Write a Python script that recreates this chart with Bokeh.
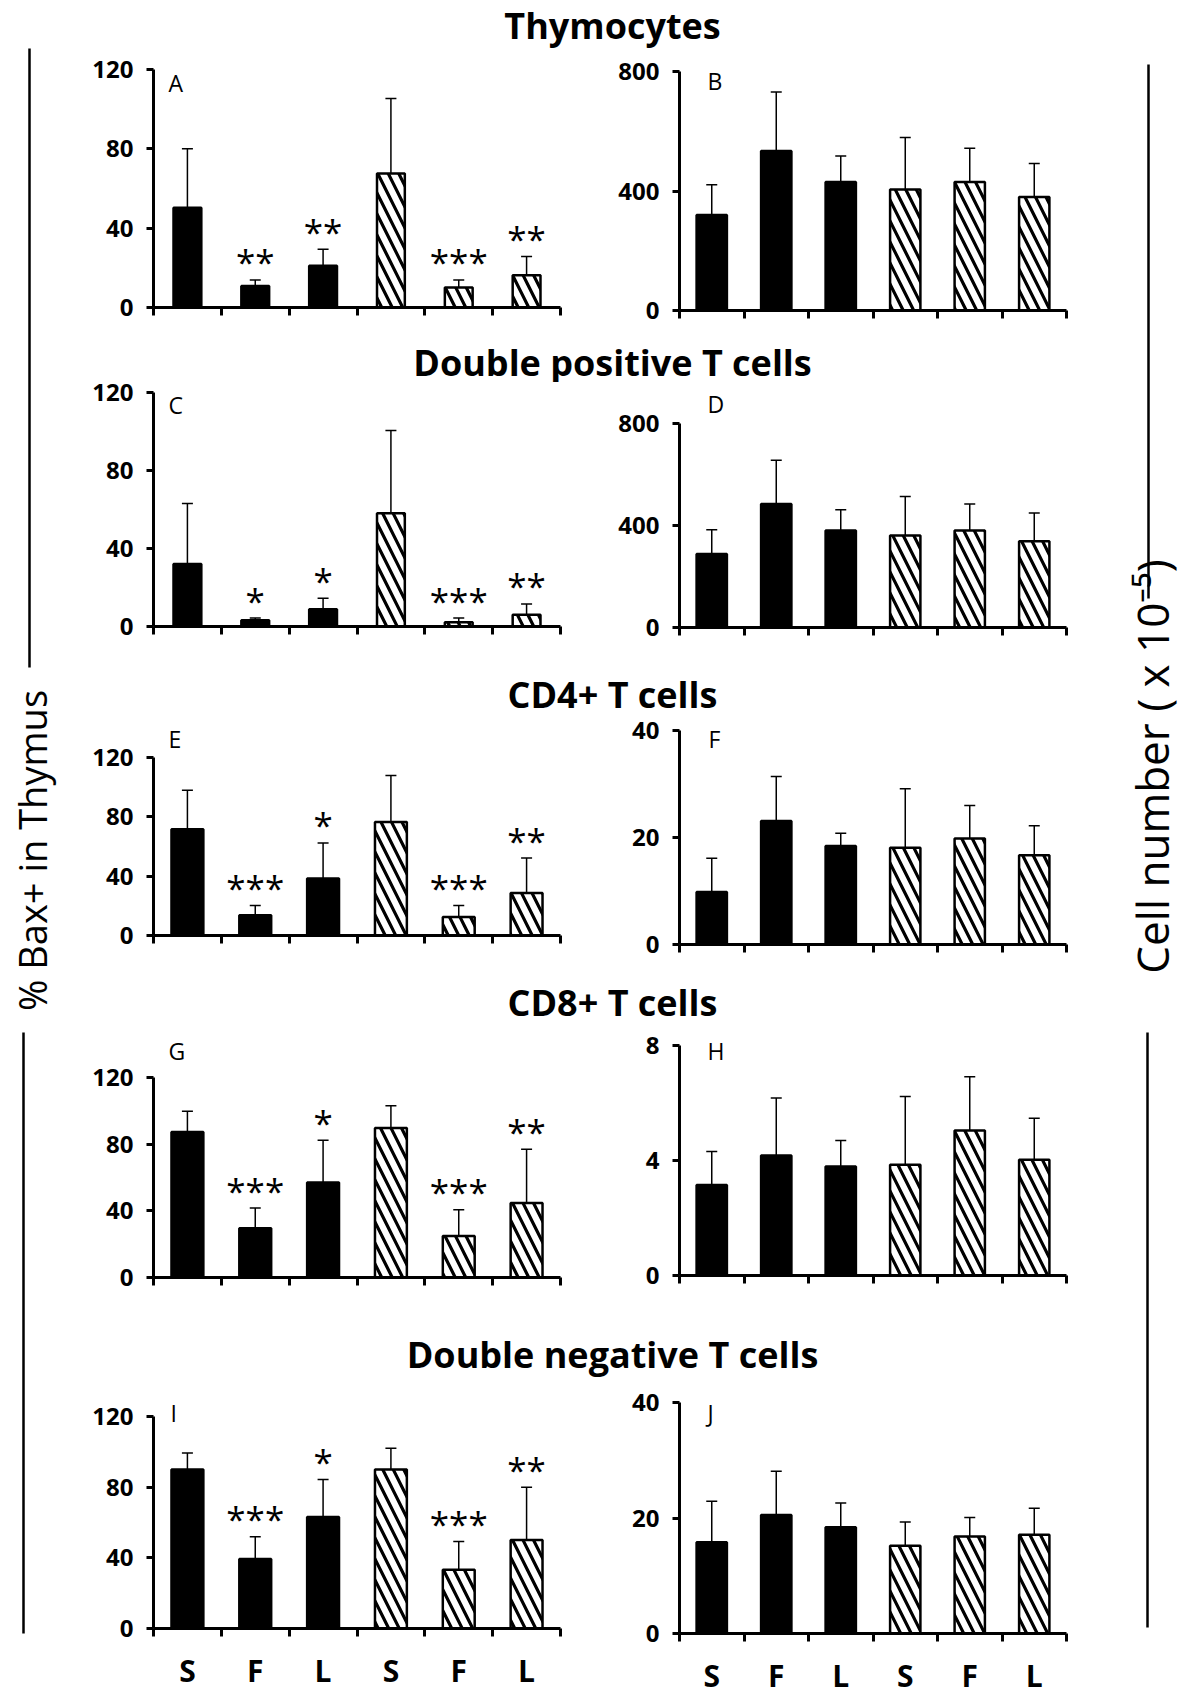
import math
from bokeh.plotting import figure
from bokeh.models import ColumnDataSource, Range1d, FixedTicker, LinearAxis, Whisker, TeeHead
from bokeh.layouts import row, column
from bokeh.embed import file_html
from bokeh.resources import INLINE
from bokeh.core.properties import value

FONT = "Open Sans"

# ---------------- data ----------------
categories = ["S", "F", "L", "S", "F", "L"]
groups = ["solid", "solid", "solid", "hatched", "hatched", "hatched"]

titles = ["Thymocytes", "Double positive T cells", "CD4+ T cells",
          "CD8+ T cells", "Double negative T cells"]
left_label = "% Bax+ in Thymus"
right_label = "Cell number ( x 10\u207b\u2075)"

# % Bax+ (left column)
A_mean = [50.3, 10.9, 21.0, 67.6, 10.1, 16.3]
A_sd = [29.7, 3.0, 8.4, 37.8, 3.8, 9.4]
A_sig = ["", "**", "**", "", "***", "**"]
C_mean = [32.1, 3.2, 8.9, 58.1, 2.2, 6.0]
C_sd = [31.0, 1.1, 5.6, 42.4, 2.1, 5.6]
C_sig = ["", "*", "*", "", "***", "**"]
E_mean = [71.6, 13.7, 38.5, 76.5, 12.4, 28.6]
E_sd = [26.3, 6.6, 23.9, 31.3, 7.9, 23.6]
E_sig = ["", "***", "*", "", "***", "**"]
G_mean = [87.3, 29.5, 57.0, 89.7, 24.9, 44.7]
G_sd = [12.4, 12.2, 25.3, 13.4, 15.8, 32.2]
G_sig = ["", "***", "*", "", "***", "**"]
I_mean = [90.0, 39.3, 63.1, 90.0, 33.3, 50.1]
I_sd = [9.4, 12.7, 21.2, 12.0, 16.0, 29.9]
I_sig = ["", "***", "*", "", "***", "**"]
bax_ticks = [0, 40, 80, 120]

# Cell number (right column)
B_mean = [320, 534, 430, 405, 430, 380]
B_sd = [101, 197, 87, 174, 113, 112]
B_ticks = [0, 400, 800]
D_mean = [288, 484, 380, 361, 380, 338]
D_sd = [95, 172, 82, 153, 104, 111]
D_ticks = [0, 400, 800]
F_mean = [9.8, 23.1, 18.4, 18.1, 19.8, 16.7]
F_sd = [6.3, 8.3, 2.4, 11.0, 6.2, 5.5]
F_ticks = [0, 20, 40]
H_mean = [3.15, 4.17, 3.79, 3.85, 5.04, 4.03]
H_sd = [1.16, 2.00, 0.91, 2.38, 1.87, 1.44]
H_ticks = [0, 4, 8]
J_mean = [15.8, 20.5, 18.4, 15.2, 16.8, 17.1]
J_sd = [7.1, 7.6, 4.2, 4.1, 3.3, 4.6]
J_ticks = [0, 20, 40]

# ---------------- layout geometry (page pixels) ----------------
LEFT = dict(fig_w=520, b_left=73, frame_w=407, axis_x=153)
RIGHT = dict(fig_w=500, b_left=79, frame_w=387, axis_x=679)
PAGE_TOP, PAGE_BOTTOM = 0, 1692
TEXT_SHIFT = 10     # rendered baseline text sits a little lower than its anchor
LETTER_DROP = 8     # cap top of a "top"-anchored 23px letter lies this far below the anchor


def base_fig(**kw):
    p = figure(toolbar_location=None, output_backend="svg", title=None,
               x_axis_location=None, y_axis_location=None,
               outline_line_color=None, background_fill_color="white",
               border_fill_color="white", **kw)
    p.grid.visible = False
    return p


def make_panel(col, mean, sd, yticks, letter, sig, fig_top, fig_bottom,
               axis_top, zero, letter_x, letter_top, bar_w, bottom=False):
    ymax = yticks[-1]
    frame_top = min(axis_top, letter_top - 3)
    frame_h = zero - frame_top
    px_per_unit = (zero - axis_top) / ymax
    y_end = frame_h / px_per_unit
    cat_px = col["frame_w"] / 6.0
    p = base_fig(frame_width=col["frame_w"], frame_height=frame_h,
                 min_border_left=col["b_left"],
                 min_border_right=col["fig_w"] - col["b_left"] - col["frame_w"],
                 min_border_top=frame_top - fig_top,
                 min_border_bottom=fig_bottom - zero,
                 x_range=Range1d(0, 6), y_range=Range1d(0, y_end))

    xs = [i + 0.5 for i in range(6)]
    tops = [m + s for m, s in zip(mean, sd)]
    for grp, fill, hatch in (("solid", "black", " "), ("hatched", "white", "\\")):
        idx = [i for i, g in enumerate(groups) if g == grp]
        src = ColumnDataSource(dict(x=[xs[i] for i in idx], top=[mean[i] for i in idx]))
        p.vbar(x="x", top="top", bottom=0, width=bar_w, source=src,
               fill_color=fill, line_color="black", line_width=2.5,
               hatch_pattern=hatch, hatch_color="black", hatch_scale=21,
               hatch_weight=3.2)

    esrc = ColumnDataSource(dict(x=xs, lower=mean, upper=tops))
    p.add_layout(Whisker(source=esrc, base="x", lower="lower", upper="upper",
                         dimension="height", line_color="black", line_width=1.5,
                         upper_head=TeeHead(size=11, line_width=1.5, line_color="black"),
                         lower_head=None))

    if sig is not None:
        ssrc = ColumnDataSource(dict(x=xs, y=tops, t=sig))
        p.text(x="x", y="y", text="t", source=ssrc, text_font=value(FONT),
               text_font_size="35px", text_align="center",
               text_baseline="alphabetic", y_offset=-18, text_color="black")

    p.text(x=[(letter_x - col["axis_x"]) / cat_px],
           y=[(zero - (letter_top - LETTER_DROP)) / px_per_unit],
           text=[letter], text_font=value(FONT), text_font_size="23px",
           text_align="left", text_baseline="top", text_color="black")

    yaxis = LinearAxis(ticker=FixedTicker(ticks=yticks), bounds=(0, ymax),
                       axis_line_width=3, axis_line_color="black",
                       major_tick_line_width=3, major_tick_in=0, major_tick_out=7,
                       minor_tick_line_color=None,
                       major_label_text_font=FONT, major_label_text_font_style="bold",
                       major_label_text_font_size="24px", major_label_standoff=13,
                       major_label_text_color="black")
    p.add_layout(yaxis, "left")

    xaxis = LinearAxis(ticker=FixedTicker(ticks=xs, minor_ticks=list(range(7))),
                       bounds=(0, 6), axis_line_width=3, axis_line_color="black",
                       major_tick_line_color=None, major_tick_out=0,
                       minor_tick_in=0, minor_tick_out=8, minor_tick_line_width=3,
                       minor_tick_line_color="black",
                       major_label_text_font=FONT, major_label_text_font_style="bold",
                       major_label_text_color="black")
    if bottom:
        xaxis.major_label_overrides = {x: c for x, c in zip(xs, categories)}
        xaxis.major_label_text_font_size = "30px"
        xaxis.major_label_standoff = 13
    else:
        xaxis.major_label_overrides = {x: "" for x in xs}
        xaxis.major_label_text_font_size = "0px"
        xaxis.major_label_standoff = 0
    p.add_layout(xaxis, "below")
    return p


def title_fig(text, top, bottom, baseline):
    p = base_fig(width=1020, height=bottom - top, min_border=0,
                 x_range=Range1d(80, 1100), y_range=Range1d(bottom, top))
    p.text(x=[612], y=[baseline - TEXT_SHIFT], text=[text], text_font=value(FONT),
           text_font_style="bold", text_font_size="36px", text_align="center",
           text_baseline="alphabetic", text_color="black")
    return p


def side_fig(x0, x1, segs, label, lx, ly, size):
    p = base_fig(width=x1 - x0, height=PAGE_BOTTOM - PAGE_TOP, min_border=0,
                 x_range=Range1d(x0, x1), y_range=Range1d(PAGE_BOTTOM, PAGE_TOP))
    p.segment(x0=[s[0] for s in segs], y0=[s[1] for s in segs],
              x1=[s[0] for s in segs], y1=[s[2] for s in segs],
              line_color="black", line_width=2.5)
    p.text(x=[lx], y=[ly], text=[label], angle=math.pi / 2,
           text_font=value(FONT), text_font_size=size, text_align="center",
           text_baseline="middle", text_color="black")
    return p


# letter_top = where the cap top of each panel letter should sit
rows_spec = [
    dict(title=(0, 52, 35), fig=(52, 324),
         L=(A_mean, A_sd, bax_ticks, "A", A_sig, 67, 305, 168, 72, 0.41),
         R=(B_mean, B_sd, B_ticks, "B", None, 71, 310, 707, 72, 0.47)),
    dict(title=(324, 382, 372), fig=(382, 642),
         L=(C_mean, C_sd, bax_ticks, "C", C_sig, 391, 625, 168, 395, 0.41),
         R=(D_mean, D_sd, D_ticks, "D", None, 423, 627, 707, 395, 0.47)),
    dict(title=(642, 715, 704), fig=(715, 957),
         L=(E_mean, E_sd, bax_ticks, "E", E_sig, 757, 935, 168, 730, 0.47),
         R=(F_mean, F_sd, F_ticks, "F", None, 729, 943, 708, 729, 0.47)),
    dict(title=(957, 1022, 1012), fig=(1022, 1292),
         L=(G_mean, G_sd, bax_ticks, "G", G_sig, 1077, 1277, 168, 1042, 0.47),
         R=(H_mean, H_sd, H_ticks, "H", None, 1045, 1275, 707, 1042, 0.47)),
    dict(title=(1292, 1380, 1364), fig=(1380, 1692),
         L=(I_mean, I_sd, bax_ticks, "I", I_sig, 1416, 1628, 170, 1404, 0.47),
         R=(J_mean, J_sd, J_ticks, "J", None, 1397, 1628, 707, 1399, 0.47)),
]

children = []
for k, spec in enumerate(rows_spec):
    t0, t1, tb = spec["title"]
    children.append(title_fig(titles[k], t0, t1, tb))
    f0, f1 = spec["fig"]
    last = (k == len(rows_spec) - 1)
    lp = make_panel(LEFT, *spec["L"][:5], f0, f1, *spec["L"][5:], bottom=last)
    rp = make_panel(RIGHT, *spec["R"][:5], f0, f1, *spec["R"][5:], bottom=last)
    children.append(row(lp, rp))

left_side = side_fig(0, 80, [(29, 48, 667), (23, 1032, 1633)], left_label, 31, 850, "38px")
right_side = side_fig(1100, 1182, [(1148, 64, 598), (1147, 1032, 1627)], right_label, 1151, 766, "44px")

layout = row(left_side, column(*children), right_side)

open("out.html", "w").write(file_html(layout, INLINE))
